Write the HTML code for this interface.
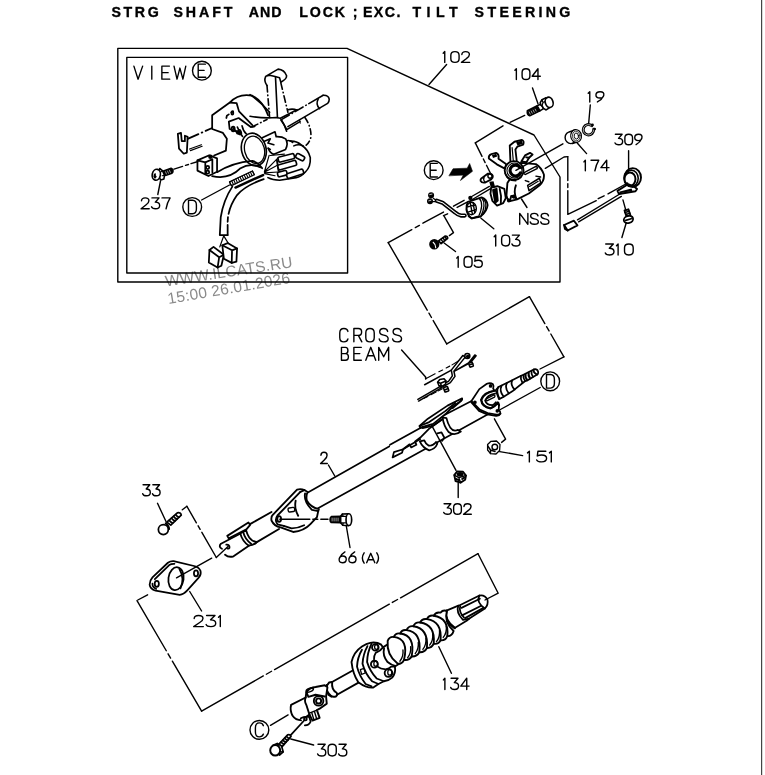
<!DOCTYPE html>
<html><head><meta charset="utf-8">
<style>
html,body{margin:0;padding:0;background:#fff;}
body{width:765px;height:775px;overflow:hidden;position:relative;font-family:"Liberation Sans",sans-serif;}
svg{position:absolute;left:0;top:0;will-change:transform;}
.t{font-family:"Liberation Sans",sans-serif;fill:#000;}
.l{stroke:#000;stroke-width:1.4;fill:none;stroke-linecap:round;stroke-linejoin:round;}
.f{stroke:#000;stroke-width:1.3;fill:#fff;stroke-linecap:round;stroke-linejoin:round;}
.k{fill:#000;stroke:none;}
.dd{stroke:#000;stroke-width:1.3;fill:none;stroke-dasharray:30 4 5 4;}
.ds{stroke:#000;stroke-width:1.1;fill:none;stroke-dasharray:4 2.5;}
</style></head>
<body>
<svg width="765" height="775" viewBox="0 0 765 775">
<rect x="0" y="0" width="765" height="775" fill="#fff"/>
<!-- TITLE -->
<g font-size="14.2" font-weight="bold" class="t" stroke="#000" stroke-width="0.35">
<text x="111.4" y="17" textLength="47.4" lengthAdjust="spacing">STRG</text>
<text x="173.5" y="17" textLength="58.9" lengthAdjust="spacing">SHAFT</text>
<text x="248.7" y="17" textLength="32.7" lengthAdjust="spacing">AND</text>
<text x="299.3" y="17" textLength="45.7" lengthAdjust="spacing">LOCK</text>
<text x="352.7" y="17" textLength="3.8" lengthAdjust="spacing">;</text>
<text x="362.9" y="17" textLength="37.6" lengthAdjust="spacing">EXC.</text>
<text x="412.5" y="17" textLength="45.1" lengthAdjust="spacing">TILT</text>
<text x="474.6" y="17" textLength="95.8" lengthAdjust="spacing">STEERING</text>
</g>

<g fill="#8a8a8a" font-family="Liberation Sans, sans-serif" font-size="15.5">
<text transform="translate(166,286.6) rotate(-8.8)" textLength="128.5">WWW.ILCATS.RU</text>
<text transform="translate(168.6,304) rotate(-9.8)" textLength="124">15:00 26.01.2026</text>
</g>
<rect x="761" y="0" width="1.2" height="775" fill="#444"/>
<!-- FRAMES -->
<g id="frames">
<path class="l" stroke-width="1.6" stroke="#000" d="M117.8 48.4 L347 48.4 L534 135 L560 177 L560 282 L117.8 282 Z"/>
<rect class="l" stroke-width="1.6" stroke="#000" x="126.8" y="57.4" width="220.8" height="215.6"/>
</g>

<!-- LABELS -->
<g id="labels">
<g transform="translate(125,55) scale(0.130719)" stroke="#000" stroke-width="10.5" fill="none" stroke-linecap="round" stroke-linejoin="round">
<path d="M68 85 L100 185 L135 85 M205 85 L205 185 M340 85 L282 85 L282 185 L342 185 M282 135 L330 135 M375 85 L398 185 L420 100 L443 185 L465 85"/>
<path d="M615 70 L560 70 L560 170 L618 170 M560 118 L605 118"/>
</g>
<circle class="l" cx="201.9" cy="70.7" r="9.4" stroke-width="1.45"/>



















</g>



<!-- TUBE main (global coords) -->
<g id="tube" stroke="#000" stroke-width="1.6" fill="none" stroke-linecap="round" stroke-linejoin="round">
<path fill="#fff" stroke="none" d="M307 493 L472 401 L488 414.5 L318 508.5 Z"/>
<path d="M472 400.8 L442.5 416"/>
<path d="M405 437.5 L307 493"/>
<path d="M488 414.2 L318 508.3"/>
</g>

<!-- LOWER CLAMP + TUBE END (zoom coords: origin 210,470 scale 6.375) -->
<g id="z4" transform="translate(210,470) scale(0.156863)" stroke="#000" stroke-width="11.8" fill="none" stroke-linecap="round" stroke-linejoin="round">
<!-- lower tube -->
<path fill="#fff" d="M392 268 L255 345 L195 405 L70 470 Q52 490 76 502 L96 540 Q120 560 150 550 L250 482 L275 470 L440 376 Z" stroke="none"/>
<path d="M392 268 L255 345"/>
<path d="M440 376 L285 468"/>
<path d="M195 405 L70 470 Q52 490 76 502"/>
<path d="M250 482 L150 550 Q120 560 96 540"/>
<path d="M104 476 Q126 474 124 496 Q120 504 110 500"/>
<!-- small ring -->
<path fill="#fff" d="M193 404 Q205 452 246 482 Q270 480 290 468 L298 458 Q268 456 250 430 Q236 408 230 384 Z"/>
<path d="M212 396 Q222 440 262 470"/>
<!-- small top plate -->
<path fill="#fff" d="M110 420 L245 335 L256 350 L232 378 L120 436 Z"/>
<!-- clamp plate -->
<path fill="#fff" d="M555 125 Q580 118 602 128 L622 140 Q610 170 618 196 Q640 236 694 250 L690 262 L682 300 L640 345 Q600 388 530 395 L450 366 Q410 360 392 322 Q388 296 402 284 Z"/>
<path d="M576 140 L430 290 Q410 318 430 346 L470 356"/>
<path d="M576 140 L602 128"/>
<path d="M606 150 Q596 200 650 254 L690 262"/>
<path d="M546 196 Q536 244 562 292"/>
<path d="M470 356 L520 372 Q560 372 600 352"/>
<rect stroke-width="9" x="498" y="240" width="42" height="26" rx="9" transform="rotate(-8 519 253)"/>
<ellipse cx="441" cy="312" rx="12" ry="18"/>
</g>

<!-- UPPER BRACKET (zoom coords: origin 390,380 scale 7.65) -->
<g id="z3" transform="translate(390,380) scale(0.130719)" stroke="#000" stroke-width="13.4" fill="none" stroke-linecap="round" stroke-linejoin="round">
<!-- long lower plate -->
<path fill="#fff" d="M30 552 L20 592 L92 556 L100 530 L150 492 L162 516 L202 496 L192 470 L232 440 L300 372 L420 290 L405 275 L310 335 L232 368 L0 496 L0 520 Z" stroke="none"/>
<path d="M0 496 L232 368 L310 338"/>
<path d="M30 552 L20 592 L92 556 L100 530 M30 552 L100 530 L150 492 L162 516 L202 496 L192 470 L232 440 L300 372 L400 300"/>
<path d="M100 530 L232 452"/>
<!-- saddle 1 -->
<path fill="#fff" d="M402 286 Q410 350 448 398 Q492 432 542 394 L520 382 Q482 396 462 366 Q440 330 432 292 Z"/>
<!-- saddle 2 -->
<path fill="#fff" d="M228 470 Q250 520 300 538 Q346 528 362 488 L352 474 Q330 506 296 502 Q274 492 262 462 Z"/>
<!-- L cutout -->
<path d="M362 408 L394 400 L416 442 L398 466"/>
<!-- top plate -->
<path fill="#fff" d="M552 140 L440 196 L290 296 L226 352 L230 364 L330 336 L430 256 L482 204 L552 152 Z"/>
<path d="M226 352 L300 322 L420 240 L500 176"/>
<path d="M480 215 L520 180 L545 160"/>
<path d="M250 368 L330 350 L400 300"/>
</g>

<!-- SHAFT END / FLANGE  (traced in zoom coords: origin 470,365 scale 10.2) -->
<g id="z1" transform="translate(470,365) scale(0.098039)" stroke="#000" stroke-width="17.9" fill="none" stroke-linecap="round" stroke-linejoin="round">
<!-- shaft stub -->
<path fill="#fff" d="M262 258 L290 224 L400 170 L520 110 L545 100 L650 45 Q684 36 694 66 Q698 84 690 95 L580 160 L560 166 L440 262 L340 326 L296 348 Z"/>
<path d="M290 224 Q262 262 300 344"/>
<path d="M322 212 Q296 262 342 322"/>
<path d="M376 184 Q352 236 396 290"/>
<path d="M430 156 Q410 204 456 250"/>
<path d="M520 110 Q512 140 534 178"/>
<path d="M545 100 Q540 130 562 164"/>
<path stroke-width="22" d="M566 96 Q560 120 580 150"/>
<path stroke-width="22" d="M598 80 Q592 106 612 136"/>
<path stroke-width="18" d="M628 64 Q622 90 642 120"/>
<path d="M652 46 Q640 76 684 98"/>
<!-- flange plate -->
<path fill="#fff" d="M15 368 L95 246 L172 192 Q206 174 234 196 Q246 216 236 240 L250 262 Q140 276 112 356 Q120 430 210 444 Q262 420 284 382 Q304 420 292 462 Q318 478 304 500 Q290 510 268 505 L180 490 L100 455 Z"/>
<path d="M12 380 L92 468 L176 504 L266 518 Q300 520 312 496"/>
<path stroke-width="20" d="M250 264 Q144 282 116 356 Q126 426 210 440 Q258 420 280 384"/>
<path d="M256 292 Q176 306 154 362 Q168 408 228 410 Q254 398 264 380"/>
<path stroke-width="13" d="M166 346 Q154 362 172 366 L250 328 Q262 310 244 306 Z"/>
<circle cx="210" cy="214" r="10" fill="#000"/>
<circle cx="50" cy="380" r="10" fill="#000"/>
<circle cx="278" cy="468" r="9" fill="#000"/>
<path d="M290 384 L298 410"/>
</g>
<g class="l">
<path d="M540.2 387.5 L499.5 410"/>
<path d="M494.4 418.8 L505.6 439.1 L501.6 442.4"/>
</g>
<!-- nut 151 -->
<g>
<path class="f" stroke-width="2" d="M487.6 444.5 L491 441.3 L496.5 441 L500 444.5 L499.6 450.5 L496 454 L490.5 453.6 L487.6 450 Z"/>
<circle class="l" cx="494.8" cy="447" r="2.8" stroke-width="1.6"/>
<path class="l" d="M487.8 446 L490.5 450 L490.5 453.5 M490.5 450 L495 451.5"/>
</g>


<!-- CROSS BEAM bracket (zoom coords: origin 410,345 scale 9.5625) -->
<g id="z5" transform="translate(410,345) scale(0.104575)" stroke="#000" stroke-width="14.6" fill="none" stroke-linecap="round" stroke-linejoin="round">
<path d="M150 310 L150 326"/>
<path d="M150 322 L240 276 M276 256 L312 240 M346 220 L380 202 M402 190 L482 142" stroke-width="11"/>
<path d="M140 380 L396 240"/>
<path d="M426 250 L560 172 L620 96 L632 102 L582 166 L440 242"/>
<path fill="#fff" d="M505 100 L395 240 L405 295 L370 345 L282 395 L300 408 L386 360 L430 300 L420 250 L528 116 Z"/>
<circle cx="548" cy="106" r="24" fill="#fff"/>
<circle cx="552" cy="110" r="10" fill="#000"/>
<rect x="566" y="168" width="36" height="40" rx="6" fill="#fff" transform="rotate(-20 584 188)"/>
<path d="M570 190 L600 180"/>
<path d="M75 520 L290 396 M82 536 L300 410"/>
<path stroke-width="10" d="M130 512 L170 492 M200 475 L250 450 M268 440 L310 418"/>
<path fill="#fff" d="M264 356 L284 330 L326 322 L344 344 L340 374 L308 394 L276 388 Z"/>
<path d="M264 356 L292 366 L344 344 M292 366 L300 392"/>
<rect x="326" y="400" width="40" height="46" rx="6" fill="#fff" transform="rotate(-20 346 423)"/>
<path d="M330 430 L366 416"/>
</g>


<!-- BOLT 33 + FLANGE 231 (zoom coords: origin 130,500 scale 7.65) -->
<g id="z6" transform="translate(130,500) scale(0.130719)" stroke="#000" stroke-width="13.4" fill="none" stroke-linecap="round" stroke-linejoin="round">
<!-- bolt 33 -->
<path fill="#fff" d="M282 170 L362 98 Q388 92 392 116 L312 192 Z"/>
<path d="M300 156 Q312 170 326 176 M318 140 Q330 156 344 160 M334 126 Q346 142 360 146 M350 112 Q362 128 376 132" stroke-width="13"/>
<circle cx="255" cy="226" r="38" fill="#fff"/>
<path d="M272 178 Q300 196 300 222"/>
<!-- flange -->
<path fill="#fff" d="M172 592 L290 480 Q310 466 334 468 L490 505 Q530 514 540 544 Q546 572 524 596 L440 690 Q410 724 380 726 L196 694 Q154 682 150 648 Q150 616 172 592 Z"/>
<path d="M190 606 L300 498 Q318 486 340 488"/>
<path d="M172 640 Q170 668 200 680"/>
<ellipse cx="352" cy="602" rx="58" ry="88" transform="rotate(8 352 602)"/>
<path d="M378 528 Q420 600 386 676"/>
<ellipse cx="205" cy="641" rx="16" ry="23"/>
<ellipse cx="505" cy="561" rx="16" ry="23"/>
</g>


<!-- BOLT 66 (zoom coords: origin 325,505 scale 19.125) -->
<g id="z21" transform="translate(325,505) scale(0.052288)" stroke="#000" stroke-width="30" fill="none" stroke-linecap="round" stroke-linejoin="round">
<path fill="#000" d="M120 222 L300 218 L300 338 L120 334 Q96 320 96 278 Q96 236 120 222 Z"/>
<path stroke="#fff" stroke-width="12" d="M136 250 L136 306 M174 250 L174 306 M212 250 L212 306 M250 250 L250 306"/>
<path fill="#fff" d="M300 216 L332 172 L450 166 L450 394 L340 386 L300 340 Z"/>
<path d="M300 216 L400 216 M300 340 L400 340 M332 172 L348 216 M340 386 L350 340" stroke-width="24"/>
<ellipse cx="456" cy="280" rx="54" ry="112" fill="#fff" stroke-width="32"/>
</g>
<!-- BOLT 66 + NUT 302 (zoom coords: origin 320,440 scale 4.78125) -->
<g id="z7" transform="translate(320,440) scale(0.20915)" stroke="#000" stroke-width="9.0" fill="none" stroke-linecap="round" stroke-linejoin="round">
<!-- nut 302 -->
<path fill="#fff" d="M642 168 L656 150 L684 152 L698 170 L694 190 L672 204 L648 196 Z"/>
<path stroke-width="7" d="M642 168 L664 180 L698 170 M664 180 L672 204"/>
<ellipse cx="670" cy="164" rx="12" ry="7" fill="#000"/>
<path d="M650 186 L664 192 M680 186 L690 180" stroke-width="9"/>
</g>
<g class="l">
<path d="M431.4 424.9 L456 470.3"/>
</g>


<!-- LOWER SHAFT coupling + ujoint (zoom coords: origin 270,620 scale 5.885) -->
<g id="z9" transform="translate(270,620) scale(0.169935)" stroke="#000" stroke-width="11.2" fill="none" stroke-linecap="round" stroke-linejoin="round">
<!-- thin shaft -->
<path fill="#fff" d="M492 294 L350 372 L382 446 L526 366 Z" stroke="none"/>
<path d="M492 294 L352 372 M526 366 L384 446"/>
<!-- collar -->
<path fill="#fff" d="M348 368 Q318 398 344 440 Q362 456 388 450 Q400 440 392 428 Q360 410 366 364 Z"/>
<path d="M334 382 Q326 420 362 450"/>
<!-- u-joint -->
<path fill="#fff" d="M124 500 L210 456 L214 424 Q236 396 268 394 L322 384 L338 396 L330 450 L334 492 L292 522 L276 530 L292 576 L250 592 L232 556 L186 590 Q150 590 132 562 Q116 530 124 500 Z"/>
<path d="M210 456 Q200 480 214 500 L232 556"/>
<ellipse cx="234" cy="412" rx="22" ry="10" transform="rotate(-20 234 412)" stroke-width="9"/>
<path d="M214 424 L226 452 L268 440 L322 450"/>
<circle cx="286" cy="476" r="28" fill="#fff"/><circle cx="286" cy="476" r="15"/>
<path d="M232 548 L276 530 M246 546 L258 586 M262 540 L274 580" stroke-width="8"/>
<path d="M194 584 Q200 566 216 574" stroke-width="8"/>
</g>


<!-- COUPLING (zoom coords: origin 340,630 scale 10.93) -->
<g id="z10" transform="translate(340,630) scale(0.091503)" stroke="#000" stroke-width="20.2" fill="none" stroke-linecap="round" stroke-linejoin="round">
<path fill="#fff" d="M330 140 Q400 128 450 160 L470 190 L560 130 L660 360 L600 400 Q612 470 570 520 Q530 556 480 560 L420 590 L360 630 Q290 636 200 570 Q140 480 126 350 Q150 240 240 180 Q290 148 330 140 Z"/>
<path d="M240 215 Q190 300 186 400 Q210 500 280 590 L345 616"/>
<path d="M300 176 Q252 264 246 370 Q276 480 350 560 L420 590"/>
<path d="M345 150 Q298 250 296 350 Q326 450 400 530 L480 560"/>
<path d="M470 190 Q440 232 390 250 Q366 290 372 320"/>
<path d="M410 400 Q440 424 500 430 Q540 420 560 400 L600 400"/>
<path d="M482 200 Q462 282 520 350 Q560 384 604 392"/>
<path d="M222 432 L262 420 L276 470 L236 484 Z" stroke-width="14"/>
<circle cx="386" cy="190" r="36" fill="#fff"/><ellipse cx="398" cy="186" rx="20" ry="26" stroke-width="14"/>
<circle cx="376" cy="374" r="38" fill="#fff"/><ellipse cx="390" cy="368" rx="20" ry="28" stroke-width="14"/>
<circle cx="530" cy="470" r="42" fill="#fff"/><ellipse cx="544" cy="464" rx="22" ry="30" stroke-width="14"/>
</g>
<!-- LOWER SHAFT 134 upper part (zoom coords: origin 370,580 scale 5.885) -->
<!-- TIP + CYLINDER (zoom coords: origin 430,585 scale 10.93) -->
<g id="z18" transform="translate(430,585) scale(0.091503)" stroke="#000" stroke-width="19" fill="none" stroke-linecap="round" stroke-linejoin="round">
<path fill="#fff" d="M180 280 L310 225 L320 224 L540 115 Q600 104 628 160 Q640 220 600 256 L430 366 L400 392 L270 470 Q150 400 180 280 Z"/>
<path d="M180 280 Q150 380 270 470" stroke-width="26"/>
<path d="M310 226 Q280 300 360 380 L430 368"/>
<path d="M330 232 Q312 290 372 356"/>
<path d="M344 250 L545 150 M350 332 L560 226 M384 362 L584 250"/>
<path d="M540 115 Q500 190 600 256"/>
</g>
<g id="z8" transform="translate(370,580) scale(0.169935)" stroke="#000" stroke-width="11.2" fill="none" stroke-linecap="round" stroke-linejoin="round">
<!-- bellows -->
<path fill="#fff" d="M104 358 Q114 332 140 335 Q151 310 178 315 Q188 290 215 295 Q227 268 255 272 Q267 246 295 250 Q307 225 335 230 Q347 205 375 210 Q387 186 415 192 Q432 172 452 184 Q434 246 492 300 Q482 332 455 330 Q443 358 415 355 Q403 380 375 375 Q363 402 335 400 Q320 428 290 425 Q276 452 245 450 Q230 475 200 470 Q189 496 162 492 Q96 440 104 358 Z"/>
<path d="M140 335 Q230 347 200 470"/>
<path d="M194 412 Q198 450 176 478" stroke-width="8"/>
<path d="M178 315 Q268 327 245 450"/>
<path d="M239 392 Q243 430 221 458" stroke-width="8"/>
<path d="M215 295 Q305 307 290 425"/>
<path d="M284 367 Q288 405 266 433" stroke-width="8"/>
<path d="M255 272 Q345 284 335 400"/>
<path d="M329 342 Q333 380 311 408" stroke-width="8"/>
<path d="M295 250 Q385 262 375 375"/>
<path d="M369 317 Q373 355 351 383" stroke-width="8"/>
<path d="M335 230 Q425 242 415 355"/>
<path d="M409 297 Q413 335 391 363" stroke-width="8"/>
<path d="M375 210 Q465 222 455 330"/>
<path d="M449 272 Q453 310 431 338" stroke-width="8"/>
</g>


<!-- BOLT 303 (zoom coords: origin 245,675 scale 7.65) -->
<g id="z11" transform="translate(245,675) scale(0.130719)" stroke="#000" stroke-width="13.4" fill="none" stroke-linecap="round" stroke-linejoin="round">
<path fill="#fff" d="M426 332 Q440 318 490 318 L502 356 Q490 384 458 386"/>
<circle cx="462" cy="337" r="11"/>
<path d="M346 464 L456 344"/>
<path fill="#fff" d="M258 530 L326 458 Q346 452 352 470 L284 548 Z"/>
<path d="M276 514 Q288 526 300 530 M290 498 Q302 512 314 514 M304 484 Q316 498 328 500 M318 470 Q330 484 342 486" stroke-width="13"/>
<path fill="#fff" d="M212 540 L246 524 L280 544 L292 588 L264 612 Z"/>
<path d="M246 524 L262 556 M292 588 L268 586" stroke-width="10"/>
<ellipse cx="231" cy="576" rx="38" ry="40" fill="#fff" stroke-width="15"/>
</g>


<!-- LOCK ASSY (zoom coords: origin 470,130 scale 8.5) -->
<g id="z12" transform="translate(470,130) scale(0.117647)" stroke="#000" stroke-width="15.7" fill="none" stroke-linecap="round" stroke-linejoin="round">
<!-- body -->
<path fill="#fff" d="M430 280 L560 290 Q606 318 628 378 Q634 430 592 470 L500 540 L400 590 L340 604 Q312 590 310 556 L318 450 Z"/>
<path d="M460 362 L560 310 Q578 314 570 328 L472 378 Q456 376 460 362 Z" stroke-width="12"/>
<path d="M490 470 L590 410 L602 450 L502 516 Z" stroke-width="13"/>
<path d="M506 480 L580 436" stroke-width="10"/>
<path d="M470 430 L500 440 M560 392 L600 400" stroke-width="12"/>
<path d="M390 470 Q370 520 392 580"/>
<path d="M340 604 L350 560 L392 580"/>
<circle cx="372" cy="566" r="10" fill="#000"/>
<circle cx="330" cy="600" r="9" fill="#000"/>
<!-- lower-left bracket -->
<path fill="#fff" d="M180 490 L232 478 L292 500 L304 580 L282 622 L230 642 L190 602 L174 540 Z"/>
<path fill="#000" d="M196 510 L226 500 L236 600 L214 620 Z"/>
<path d="M252 500 Q270 560 262 622"/>
<path fill="#000" stroke="none" d="M164 440 L200 436 L214 486 L178 496 Z"/>
<!-- right arm -->
<path fill="#fff" d="M436 268 L468 216 L510 194 L532 208 L502 236 L480 274 Z"/>
<path d="M478 232 L502 236"/>
<!-- upper arm -->
<path fill="#fff" d="M344 280 L338 132 L378 100 L440 84 Q464 92 452 124 L402 142 L386 166 L398 270 Z"/>
<path fill="#000" stroke="none" d="M392 104 L440 90 L450 116 L404 132 Z"/>
<path d="M358 150 L368 260" stroke-width="10"/>
<!-- left arm -->
<path fill="#fff" d="M300 330 L228 292 L160 242 Q156 214 182 206 L222 194 Q250 204 242 244 L306 290 Z"/>
<path fill="#000" stroke="none" d="M186 214 L222 202 L232 226 L196 238 Z"/>
<!-- hub -->
<circle cx="375" cy="345" r="80" fill="#fff" stroke-width="16"/>
<circle cx="378" cy="345" r="64" stroke-width="9"/>
<path d="M424 318 A46 46 0 1 0 428 364" stroke-width="26"/>

<path d="M300 370 Q320 430 390 432" stroke-width="12"/>
<!-- small cylinder -->
<path fill="#fff" d="M96 412 L150 372 Q186 366 194 392 Q196 410 180 420 L130 446 Q100 452 90 432 Q88 420 96 412 Z"/>
<circle cx="170" cy="392" r="18" stroke-width="12"/>
<path d="M120 400 Q108 424 130 444" stroke-width="11"/>
</g>


<!-- WIRE TUBE (zoom coords: origin 415,180 scale 10.93) -->
<g id="z20" transform="translate(415,180) scale(0.091503)" stroke="#000" fill="none" stroke-linecap="round" stroke-linejoin="round">
<path d="M232 224 L200 200 M232 236 L190 236" stroke-width="14"/>
<path d="M543 389 L505 389 Q470 384 440 356 L300 248 L238 226" stroke-width="46"/>
<path d="M543 389 L505 389 Q470 384 440 356 L300 248 L238 226" stroke="#fff" stroke-width="11"/>
<circle cx="176" cy="168" r="26" fill="#000" stroke-width="14"/>
<circle cx="164" cy="232" r="26" fill="#000" stroke-width="14"/>
<path d="M160 160 L186 154 M150 228 L174 222" stroke="#fff" stroke-width="8"/>
</g>
<!-- SWITCH 103, ARROW, BOLT 105 (zoom coords: origin 415,150 scale 7.045) -->
<g id="z13" transform="translate(415,150) scale(0.141944)" stroke="#000" stroke-width="12.3" fill="none" stroke-linecap="round" stroke-linejoin="round">
<path fill="#000" stroke-width="4" d="M240 180 L268 132 L368 128 L385 95 L405 150 L320 215 L340 178 Z"/>
<!-- double line to lock -->
<path d="M384 336 L524 256 M398 352 L532 272" stroke-width="9"/>
<!-- switch body -->
<path fill="#fff" d="M372 366 L470 334 Q506 346 512 388 Q508 430 462 470 L400 482 Q366 456 362 420 Q360 386 372 366 Z"/>
<path d="M452 340 Q490 380 446 474 M470 336 Q506 384 462 470 M486 344 Q516 392 480 452" stroke-width="9"/>
<ellipse cx="398" cy="412" rx="34" ry="44" stroke-width="10"/>
<path d="M372 400 L424 388 M378 436 L426 420 M390 376 L404 450 M410 372 L420 440" stroke-width="10"/>
<path d="M378 466 L400 482 L440 470" stroke-width="13"/>
<circle cx="390" cy="338" r="9" fill="#000"/>
<!-- bracket to bolt -->

<!-- bolt 105 -->
<path fill="#fff" d="M166 640 L214 606 Q230 606 230 622 L184 660 Z"/>
<path d="M184 630 L196 648 M198 620 L210 638 M212 612 L222 628" stroke-width="10"/>
<circle cx="136" cy="664" r="30" fill="#000"/>
<path d="M128 650 Q146 664 146 688" stroke="#fff" stroke-width="8"/>
</g>



<!-- BOLT 104 (zoom coords: origin 520,90 scale 19.125) -->
<g id="z19" transform="translate(520,90) scale(0.052288)" stroke="#000" stroke-width="30" fill="none" stroke-linecap="round" stroke-linejoin="round">
<path fill="#000" d="M140 398 L330 300 L380 400 L186 492 Q130 470 140 398 Z"/>
<path stroke="#fff" stroke-width="12" d="M176 420 L196 462 M214 402 L234 444 M252 384 L272 426 M290 366 L308 404"/>
<path fill="#fff" d="M330 300 L400 268 L450 356 L380 400 Z"/>
<path fill="#fff" d="M490 150 L420 186 L386 240 L400 292 L420 300 L450 352 L500 382 L560 340 Z"/>
<path d="M420 186 L440 240 L420 300 M440 240 L480 220" stroke-width="24"/>
<ellipse cx="558" cy="236" rx="74" ry="100" fill="#fff" transform="rotate(-18 558 236)" stroke-width="32"/>
</g>
<!-- CLIP 19 + RING 174 (zoom coords: origin 560,115 scale 15.3) -->
<g id="z23" transform="translate(560,115) scale(0.065359)" stroke="#000" stroke-width="22" fill="none" stroke-linecap="round" stroke-linejoin="round">
<path d="M486 164 A80 80 0 1 0 515 218" stroke-width="44"/>
<path d="M486 164 A80 80 0 1 0 515 218" stroke="#fff" stroke-width="10"/>
<circle cx="496" cy="152" r="22" fill="#000" stroke="none"/>
<circle cx="530" cy="216" r="22" fill="#000" stroke="none"/>
<ellipse cx="166" cy="346" rx="88" ry="92" fill="#fff"/>
<path d="M150 254 L230 228 M190 436 L262 414" />
<ellipse cx="246" cy="322" rx="82" ry="98" fill="#fff" transform="rotate(-8 246 322)" stroke-width="18"/>
<ellipse cx="248" cy="322" rx="58" ry="74" transform="rotate(-8 248 322)" stroke-width="11"/>
<ellipse cx="250" cy="322" rx="33" ry="47" transform="rotate(-8 250 322)" stroke-width="14"/>
</g>
<!-- RIGHT PARTS 104,19,174,309,310 (zoom coords: origin 510,85 scale 5.1) -->
<g id="z14" transform="translate(510,85) scale(0.196078)" stroke="#000" stroke-width="9.5" fill="none" stroke-linecap="round" stroke-linejoin="round">
<!-- 309 -->
<path d="M560 556 L344 688 M568 568 L350 698" stroke-width="7"/>
<path fill="#fff" d="M276 714 L326 692 L344 716 L294 742 Z"/>
<path d="M276 714 L280 734 L294 742" />
<path fill="#fff" d="M548 540 L612 500 L648 530 L640 542 L556 556 Z"/>
<path fill="#000" stroke="none" d="M556 544 L620 528 L624 540 L560 552 Z"/>
<ellipse cx="626" cy="472" rx="42" ry="48" fill="#fff" stroke-width="10"/><ellipse cx="618" cy="476" rx="36" ry="42" stroke-width="8"/>
<ellipse cx="612" cy="480" rx="28" ry="34" fill="#fff" stroke-width="10"/>
<path d="M590 500 L640 520" stroke-width="8"/>
<!-- screw 310 -->
<path d="M576 586 L590 636" stroke-width="7"/>
<path fill="#fff" d="M584 640 L604 634 L614 664 L594 670 Z"/>
<path d="M586 650 L608 644 M590 660 L612 654" stroke-width="8"/>
<ellipse cx="604" cy="686" rx="24" ry="18" fill="#fff" transform="rotate(-15 604 686)"/>
<path d="M590 690 L618 682" stroke-width="9"/>
</g>


<!-- VIEW E: lever + shaft (zoom coords: origin 250,60 scale 7.65) -->
<g id="z16" transform="translate(250,60) scale(0.130719)" stroke="#000" stroke-width="12.3" fill="none" stroke-linecap="round" stroke-linejoin="round">
<path d="M0 265 Q80 320 150 400"/>
<path d="M0 430 Q100 448 200 440 L232 446 L360 380"/>
<path d="M20 510 L130 455" stroke-dasharray="44 24 4 24"/>
<path d="M120 125 L215 70 Q262 74 280 120 Q282 146 236 170 L226 136 L192 126 L150 116 Z M120 125 Q104 160 130 195"/>
<path d="M130 195 L150 440" stroke-dasharray="50 24 4 24"/>
<path d="M195 130 L210 440"/>
<path d="M236 175 L290 400" stroke-dasharray="50 24 4 24"/>
<path d="M290 380 Q330 370 360 384"/>
<path d="M240 456 L450 334" stroke-dasharray="70 24 4 24"/><path d="M450 334 L560 270"/>
<path d="M560 270 Q600 268 606 300 Q606 322 594 332 L290 510 M240 456 Q266 500 280 545"/>
<path d="M522 298 Q500 340 532 372"/>
<path d="M420 440 Q470 510 466 590 Q456 630 430 652" stroke-dasharray="44 24 4 24"/>
<path d="M380 460 L384 484" stroke-width="8"/>
</g>
<!-- VIEW E: main (zoom coords: origin 170,80 scale 5.1) -->
<g id="z15" transform="translate(170,80) scale(0.196078)" stroke="#000" stroke-width="9.0" fill="none" stroke-linecap="round" stroke-linejoin="round">
<!-- bracket plate -->
<path d="M225 385 L285 360 L290 300 L270 270 L215 250 L215 180 L305 115 Q350 66 420 80 Q476 110 500 180"/>
<path d="M305 115 L340 118 L352 160 L420 230"/>
<path d="M290 182 L322 160 M290 182 L286 200" stroke-dasharray="12 16"/>
<ellipse cx="318" cy="168" rx="5" ry="9"/>
<path d="M300 212 L350 194 L412 240 L432 236 M300 212 L304 250 L340 262"/>
<path d="M322 244 Q330 262 350 270" />
<ellipse cx="322" cy="250" rx="8" ry="12"/>
<ellipse cx="350" cy="268" rx="9" ry="7"/>
<path d="M90 300 L215 245" stroke-dasharray="60 18 4 18"/>
<path d="M100 352 L160 330 M104 360 L164 338" stroke-width="6"/>
<!-- fork -->
<path d="M40 275 L46 350 L70 376 L86 370 L90 290 L76 284 L76 312 L60 312 L56 270 Z"/>
<!-- wires -->
<path d="M215 490 Q300 510 360 450 Q410 420 462 446"/>
<path d="M240 470 Q320 420 420 412 Q450 420 470 450"/>
<!-- small box -->
<path fill="#fff" d="M140 410 L200 384 L240 400 L240 468 L196 490 L140 462 Z"/>
<path d="M180 420 L216 404 L216 470" />
<path d="M140 410 L180 420 L180 480" />
<circle cx="192" cy="446" r="8"/><circle cx="192" cy="470" r="8"/>
<circle cx="206" cy="392" r="7" fill="#000"/>
<!-- corrugated tube -->

</g>
<!-- VIEW E inner detail (zoom coords: origin 235,120 scale 8.5) -->
<g id="z24" transform="translate(235,120) scale(0.117647)" stroke="#000" stroke-width="14" fill="none" stroke-linecap="round" stroke-linejoin="round">
<!-- ring -->
<ellipse cx="160" cy="250" rx="104" ry="140" transform="rotate(-14 160 250)"/>
<ellipse cx="166" cy="254" rx="84" ry="118" transform="rotate(-14 166 254)" stroke-width="11"/>
<path d="M64 140 Q40 110 20 60 M96 118 Q70 96 60 50"/>
<ellipse cx="40" cy="104" rx="14" ry="22" transform="rotate(-20 40 104)" stroke-width="11"/>
<!-- lock inner body -->
<path d="M232 150 L340 100 L350 142 Q400 140 430 160 Q456 200 430 250 L330 292 Q296 280 282 240"/>
<path d="M250 180 L300 160 L280 196 L330 210 M282 240 L300 250"/>
<path d="M440 176 Q470 170 490 190 M500 220 Q540 200 580 220"/>
<!-- outer blob -->
<path d="M470 180 Q520 176 560 210 Q624 250 640 320 Q644 400 600 440 Q560 484 520 490 L380 512 Q320 512 280 490"/>
<!-- shaft-end arrow + dashed arc -->
<path d="M390 0 Q420 40 440 82 L552 14"/>
<!-- wires fan -->
<path d="M250 440 L366 322 M250 444 L360 384 M252 450 L366 442 M252 456 L340 474 M290 300 L250 440 M300 302 L420 290" stroke-width="10"/>
<path d="M356 340 L370 430" stroke-width="16"/>
<!-- connectors -->
<rect x="366" y="300" width="140" height="44" rx="14" fill="#fff" transform="rotate(-14 436 322)"/>
<rect x="516" y="296" width="76" height="40" rx="14" fill="#fff" transform="rotate(28 554 316)"/>
<rect x="364" y="362" width="160" height="44" rx="14" fill="#fff" transform="rotate(-16 444 384)"/>
<rect x="362" y="436" width="80" height="40" rx="12" fill="#fff" transform="rotate(-14 402 456)"/>
<rect x="438" y="436" width="146" height="42" rx="14" fill="#fff" transform="rotate(-18 511 457)"/>
</g>
<!-- VIEW E: hose + connectors (zoom coords: origin 190,170 scale 6.375) -->
<g id="z17" transform="translate(190,170) scale(0.156863)" stroke="#000" stroke-width="11.2" fill="none" stroke-linecap="round" stroke-linejoin="round">
<path fill="#fff" d="M264 100 L410 30 L398 6 L252 76 Z" stroke-width="8"/>
<path d="M264 100 L252 76 M277 93 L266 70 M290 87 L279 64 M303 81 L292 57 M317 74 L305 51 M330 68 L319 44 M343 62 L332 38 M357 55 L345 32 M370 49 L359 25 M383 42 L372 19 M396 36 L385 13 M410 30 L398 6 " stroke-width="7"/>
<path d="M290 112 L466 32" stroke-width="16"/>
<path d="M270 106 Q214 190 196 300 L190 415 L240 415"/>
<path d="M470 58 Q350 100 300 160 Q258 220 246 280" />
<path d="M242 300 L240 330 M240 350 L240 415"/>
<path d="M215 420 L190 490 M215 420 L246 470" stroke-width="8"/>
<path fill="#fff" d="M124 510 L150 490 L216 540 L200 610 L176 622 L120 590 Z"/>
<path d="M124 510 L186 556 L176 622 M186 556 L216 540"/>
<path fill="#fff" d="M206 480 L240 466 L300 500 L296 584 L266 592 L216 566 Z"/>
<path d="M206 480 L268 512 L266 592 M268 512 L300 500"/>
</g>
<!-- BOLT 237 (zoom coords: origin 145,158 scale 19.125) -->
<g id="z22" transform="translate(145,158) scale(0.052288)" stroke="#000" stroke-width="30" fill="none" stroke-linecap="round" stroke-linejoin="round">
<path fill="#000" d="M340 252 L500 198 Q536 208 536 246 Q534 276 516 290 L388 334 Z"/>
<path stroke="#fff" stroke-width="11" d="M392 262 L410 306 M430 248 L448 292 M468 234 L486 278"/>
<path fill="#fff" d="M280 200 L332 240 L372 330 L362 400 L300 422 L240 300 Z"/>
<path d="M332 240 L300 270 M372 330 L330 340" stroke-width="22"/>
<ellipse cx="216" cy="320" rx="78" ry="106" fill="#fff" transform="rotate(12 216 320)" stroke-width="32"/>
<path fill="#000" stroke="none" d="M170 300 L210 290 L206 330 L226 360 L190 400 L160 360 Z"/>
</g>


<g transform="translate(335,322) scale(0.099344)" stroke="#000" stroke-width="14" fill="none" stroke-linecap="round" stroke-linejoin="round">
<path d="M130 95 Q125 65 90 65 Q48 65 48 110 L48 155 Q48 200 90 200 Q125 200 130 170"/>
<path d="M190 200 L190 65 L235 65 Q268 65 268 100 Q268 135 235 135 L190 135 M235 135 L270 200"/>
<path d="M352 65 Q310 65 310 110 L310 155 Q310 200 352 200 Q395 200 395 155 L395 110 Q395 65 352 65 Z"/>
<path d="M530 95 Q525 65 490 65 Q450 65 450 98 Q450 125 490 132 Q535 140 535 168 Q535 200 490 200 Q450 200 445 170"/>
<path d="M665 95 Q660 65 625 65 Q585 65 585 98 Q585 125 625 132 Q670 140 670 168 Q670 200 625 200 Q585 200 580 170"/>
<path d="M65 255 L65 385 L105 385 Q135 385 135 350 Q135 318 105 318 L65 318 M105 318 Q130 318 130 286 Q130 255 105 255 L65 255"/>
<path d="M265 255 L190 255 L190 385 L265 385 M190 318 L250 318"/>
<path d="M310 385 L360 255 L410 385 M328 340 L392 340"/>
<path d="M440 385 L440 255 L490 350 L540 255 L540 385"/>
</g>
<g id="strokelabels" class="l" stroke-width="1.4">
<path d="M443.20 53.22 L444.75 51.60 L444.75 62.40 M454.95 51.60 Q450.83 51.60 450.83 55.20 L450.83 58.80 Q450.83 62.40 454.95 62.40 Q459.08 62.40 459.08 58.80 L459.08 55.20 Q459.08 51.60 454.95 51.60 Z M461.86 54.48 Q462.07 51.60 465.58 51.60 Q469.39 51.60 469.39 54.48 Q469.39 56.46 466.61 58.44 L461.45 62.40 L469.70 62.40"/>
<path d="M514.90 70.32 L516.36 68.70 L516.36 79.50 M525.99 68.70 Q522.10 68.70 522.10 72.30 L522.10 75.90 Q522.10 79.50 525.99 79.50 Q529.89 79.50 529.89 75.90 L529.89 72.30 Q529.89 68.70 525.99 68.70 Z M537.96 79.50 L537.96 68.70 L532.13 76.26 L540.30 76.26"/>
<path d="M588.20 93.26 L589.77 91.70 L589.77 102.10 M597.40 101.93 Q601.79 99.85 603.67 95.69 Q604.72 91.70 600.12 91.70 Q595.94 91.70 595.94 94.99 Q595.94 98.03 599.91 98.03 Q603.05 98.03 603.78 95.34"/>
<path d="M583.90 161.88 L585.34 160.30 L585.34 170.80 M591.02 160.30 L598.71 160.30 Q596.02 164.67 594.86 170.80 M606.69 170.80 L606.69 160.30 L600.92 167.65 L609.00 167.65"/>
<path d="M615.38 134.20 L622.09 134.20 L618.54 138.35 Q622.66 138.35 622.66 141.53 Q622.66 144.80 618.83 144.80 Q615.57 144.80 615.00 142.86 M628.70 134.20 Q624.87 134.20 624.87 137.73 L624.87 141.27 Q624.87 144.80 628.70 144.80 Q632.53 144.80 632.53 141.27 L632.53 137.73 Q632.53 134.20 628.70 134.20 Z M636.08 144.62 Q640.10 142.50 641.83 138.26 Q642.78 134.20 638.57 134.20 Q634.74 134.20 634.74 137.56 Q634.74 140.65 638.38 140.65 Q641.25 140.65 641.92 137.91"/>
<path d="M605.73 244.00 L613.33 244.00 L609.32 248.31 Q613.98 248.31 613.98 251.61 Q613.98 255.00 609.64 255.00 Q605.95 255.00 605.30 252.98 M616.48 245.65 L618.11 244.00 L618.11 255.00 M628.86 244.00 Q624.52 244.00 624.52 247.67 L624.52 251.33 Q624.52 255.00 628.86 255.00 Q633.20 255.00 633.20 251.33 L633.20 247.67 Q633.20 244.00 628.86 244.00 Z"/>
<path d="M519.70 224.30 L519.70 213.40 L527.87 224.30 L527.87 213.40 M537.98 215.85 Q537.57 213.40 534.30 213.40 Q530.62 213.40 530.62 216.12 Q530.62 218.21 534.30 218.85 Q538.38 219.49 538.38 221.76 Q538.38 224.30 534.30 224.30 Q530.62 224.30 530.22 221.85 M548.49 215.85 Q548.08 213.40 544.82 213.40 Q541.14 213.40 541.14 216.12 Q541.14 218.21 544.82 218.85 Q548.90 219.49 548.90 221.76 Q548.90 224.30 544.82 224.30 Q541.14 224.30 540.73 221.85"/>
<path d="M494.20 236.73 L495.71 235.10 L495.71 246.00 M505.64 235.10 Q501.63 235.10 501.63 238.73 L501.63 242.37 Q501.63 246.00 505.64 246.00 Q509.66 246.00 509.66 242.37 L509.66 238.73 Q509.66 235.10 505.64 235.10 Z M512.37 235.10 L519.40 235.10 L515.68 239.37 Q520.00 239.37 520.00 242.64 Q520.00 246.00 515.98 246.00 Q512.57 246.00 511.97 244.00"/>
<path d="M456.70 258.11 L458.19 256.50 L458.19 267.20 M468.06 256.50 Q464.07 256.50 464.07 260.07 L464.07 263.63 Q464.07 267.20 468.06 267.20 Q472.04 267.20 472.04 263.63 L472.04 260.07 Q472.04 256.50 468.06 256.50 Z M481.70 256.50 L475.33 256.50 L474.83 261.23 Q476.32 260.25 478.32 260.25 Q482.30 260.25 482.30 263.63 Q482.30 267.20 478.32 267.20 Q475.13 267.20 474.33 265.24"/>
<path d="M141.51 200.81 Q141.71 197.90 145.16 197.90 Q148.91 197.90 148.91 200.81 Q148.91 202.81 146.17 204.80 L141.10 208.80 L149.21 208.80 M151.95 197.90 L159.05 197.90 L155.30 202.17 Q159.66 202.17 159.66 205.44 Q159.66 208.80 155.60 208.80 Q152.15 208.80 151.54 206.80 M161.99 197.90 L170.10 197.90 Q167.26 202.44 166.04 208.80"/>
<path d="M527.50 452.89 L529.36 451.30 L529.36 461.90 M545.85 451.30 L537.91 451.30 L537.29 455.98 Q539.15 455.01 541.63 455.01 Q546.59 455.01 546.59 458.37 Q546.59 461.90 541.63 461.90 Q537.66 461.90 536.67 459.96 M549.44 452.89 L551.30 451.30 L551.30 461.90"/>
<path d="M444.09 503.70 L450.84 503.70 L447.27 507.85 Q451.42 507.85 451.42 511.03 Q451.42 514.30 447.56 514.30 Q444.28 514.30 443.70 512.36 M457.50 503.70 Q453.64 503.70 453.64 507.23 L453.64 510.77 Q453.64 514.30 457.50 514.30 Q461.36 514.30 461.36 510.77 L461.36 507.23 Q461.36 503.70 457.50 503.70 Z M463.97 506.53 Q464.16 503.70 467.44 503.70 Q471.01 503.70 471.01 506.53 Q471.01 508.47 468.40 510.41 L463.58 514.30 L471.30 514.30"/>
<path d="M320.93 455.29 Q321.10 452.30 323.95 452.30 Q327.05 452.30 327.05 455.29 Q327.05 457.34 324.79 459.39 L320.60 463.50 L327.30 463.50"/>
<path d="M143.08 484.70 L149.74 484.70 L146.22 489.05 Q150.31 489.05 150.31 492.38 Q150.31 495.80 146.50 495.80 Q143.27 495.80 142.70 493.76 M152.87 484.70 L159.53 484.70 L156.01 489.05 Q160.10 489.05 160.10 492.38 Q160.10 495.80 156.30 495.80 Q153.06 495.80 152.49 493.76"/>
<path d="M194.18 618.46 Q194.42 615.50 198.51 615.50 Q202.97 615.50 202.97 618.46 Q202.97 620.50 199.72 622.53 L193.70 626.60 L203.33 626.60 M206.58 615.50 L215.00 615.50 L210.55 619.85 Q215.73 619.85 215.73 623.18 Q215.73 626.60 210.91 626.60 Q206.82 626.60 206.10 624.56 M218.49 617.16 L220.30 615.50 L220.30 626.60"/>
<path d="M344.94 551.88 Q340.97 554.08 339.27 558.48 Q338.32 562.70 342.48 562.70 Q346.26 562.70 346.26 559.22 Q346.26 556.01 342.67 556.01 Q339.83 556.01 339.17 558.85 M354.68 551.88 Q350.71 554.08 349.00 558.48 Q348.06 562.70 352.22 562.70 Q356.00 562.70 356.00 559.22 Q356.00 556.01 352.41 556.01 Q349.57 556.01 348.91 558.85"/>
<path d="M443.40 679.89 L444.88 678.20 L444.88 689.50 M451.08 678.20 L457.97 678.20 L454.33 682.63 Q458.56 682.63 458.56 686.02 Q458.56 689.50 454.63 689.50 Q451.28 689.50 450.69 687.43 M466.74 689.50 L466.74 678.20 L460.83 686.11 L469.10 686.11"/>
<path d="M318.01 744.30 L325.16 744.30 L321.38 748.88 Q325.77 748.88 325.77 752.39 Q325.77 756.00 321.68 756.00 Q318.21 756.00 317.60 753.86 M332.20 744.30 Q328.12 744.30 328.12 748.20 L328.12 752.10 Q328.12 756.00 332.20 756.00 Q336.28 756.00 336.28 752.10 L336.28 748.20 Q336.28 744.30 332.20 744.30 Z M339.04 744.30 L346.19 744.30 L342.41 748.88 Q346.80 748.88 346.80 752.39 Q346.80 756.00 342.72 756.00 Q339.24 756.00 338.63 753.86"/>
<path d="M364.13 552.83 Q360.63 558.00 364.13 563.17 M366.66 562.70 L370.74 553.30 L374.82 562.70 M368.02 559.72 L373.46 559.72 M376.77 552.83 Q380.27 558.00 376.77 563.17"/>
</g>
<path class="l" d="M443.5 215.6 L447.6 213.8 M444.1 216.2 L453.5 232.6 L449.4 235.6"/>
<g id="circled">
<g transform="translate(192.2,207.0)" class="l" stroke-width="1.45"><circle r="9.4"/><path d="M-3.7 -6.8 L-3.7 6.8 L0.3 6.8 Q4.2 6.6 4.2 2 L4.2 -2 Q4.2 -6.6 0.3 -6.8 Z"/></g>
<g transform="translate(433.7,170.2)" class="l" stroke-width="1.45"><circle r="9.4"/><path d="M3.5 -6.8 L-3.5 -6.8 L-3.5 6.8 L3.7 6.8 M-3.5 0 L2.5 0"/></g>
<g transform="translate(550.2,381.3)" class="l" stroke-width="1.45"><circle r="9.4"/><path d="M-3.7 -6.8 L-3.7 6.8 L0.3 6.8 Q4.2 6.6 4.2 2 L4.2 -2 Q4.2 -6.6 0.3 -6.8 Z"/></g>
<g transform="translate(259.4,729.9)" class="l" stroke-width="1.45"><circle r="9.4"/><path d="M4 -4.2 Q3 -7 0 -7 Q-4 -7 -4 -2 L-4 2 Q-4 7 0 7 Q3 7 4 4.2"/></g>
</g>
<!-- LEADERS -->
<g id="leaders" class="l">
<path d="M446.6 64.5 L429 84.5"/>
<path d="M532.5 88 L538 103.8"/>
<path d="M590.3 105 L588.7 123"/>
<path d="M577.2 143 L586.6 153.6"/>
<path d="M628.6 150.7 L628.6 171.3"/>
<path d="M621.9 237.5 L626.2 223"/>
<path d="M521.5 199 L527 207.5"/>
<path d="M481 218.2 L493.8 228.8"/>
<path d="M444.1 243 L455.5 251.5"/>
<path d="M401.6 350 L425.6 377"/>
<path d="M499.7 451.6 L522.6 455.6"/>
<path d="M458.2 483 L458.2 497.5"/>
<path d="M328.4 465 L334.8 476"/>
<path d="M157.5 503.3 L166 521.5"/>
<path d="M189.7 591.5 L201.6 611"/>
<path d="M346.3 526 L350 547.5"/>
<path d="M438.8 646.7 L451.4 673.3"/>
<path d="M270.5 725.3 L288.1 714.9"/>
<path d="M290.8 739 L313.6 745"/>
<path d="M160.5 181 L157.8 194.5"/>
<path d="M201.6 200 L229.5 185"/>
</g>

<!-- DASH-DOT LINES -->
<g id="dashdot" class="l">
<path d="M524.7 115.4 L510 122.3"/><path d="M503 125.8 L475.3 142.9"/><path d="M475.3 142.9 L491.2 174.7" stroke-dasharray="15 3 4 3 100"/>
<path d="M515.9 170.3 L562.9 143.8"/>
<path d="M545.3 168.3 L564 157 L567.8 156.6"/>
<path d="M567.8 156.6 L567.8 214.4 L596.3 200.7" stroke-dasharray="24 3 4 3 200"/>
<path d="M598.2 198.7 L604.1 195.8 M608 193.8 L627.6 183"/>
<path d="M388.2 242.6 L411.8 229.7 M415.3 227.6 L419.4 225.4 M422.9 223.2 L443.5 212.1 M453.5 206.2 L464.1 200.3 M457.1 207.4 L467.1 202.1"/>
<path d="M388.2 242.6 L446.7 343.9" stroke-dasharray="78 3.5 5 3.5 100"/>
<path d="M446.7 343.9 L529.4 296.7"/>
<path d="M529.4 296.7 L563.9 356.8" stroke-dasharray="31 3.5 5 3.5 100"/>
<path d="M563.9 356.8 L540 369"/>
<path d="M147.6 594.8 L137.8 600"/>
<path d="M137 600.7 L201.6 711.1" stroke-dasharray="58 3.5 5 3.5 100"/>
<path d="M201.6 711.1 L478 553.7" stroke-dasharray="71 3.5 6 3.5 132 3.5 6 3.5 200"/>
<path d="M478 553.7 L498.2 593.2 L485 600"/>
<path d="M176.5 577.8 L211.7 558.2"/><path d="M216.3 557.5 L228 546.5"/>
<path d="M216.3 557.5 L186.9 506.3" stroke-dasharray="29 3.5 4 3.5 100"/>
<path d="M186.9 506.3 L182.3 509.8"/>
<path d="M279.8 519.3 L328 519.3" stroke-dasharray="30 3 5 3 100"/>
<path d="M174 169.2 L182.6 166.4 M185.5 165.4 L188.5 164.5 M191 163.6 L198 161.5"/>
</g>
</svg>
</body></html>
